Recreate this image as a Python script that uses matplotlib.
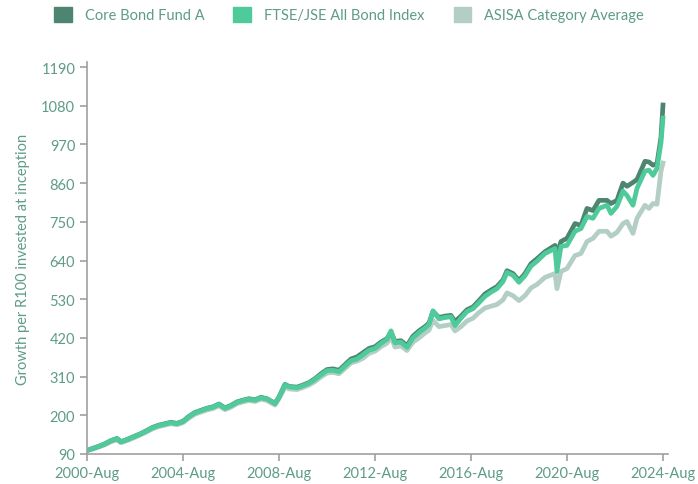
import pandas as pd
import matplotlib
matplotlib.use("Agg")
import matplotlib.pyplot as plt
from matplotlib.patches import Patch

# values (growth of R100)
dates = [
    "2000-08", "2000-11", "2001-02", "2001-05", "2001-08", "2001-11", "2002-01", "2002-04",
    "2002-08", "2002-11", "2003-02", "2003-05", "2003-08", "2003-11", "2004-02", "2004-05",
    "2004-08", "2004-11", "2005-02", "2005-05", "2005-08", "2005-11", "2006-02", "2006-05",
    "2006-08", "2006-11", "2007-02", "2007-05", "2007-08", "2007-11", "2008-02", "2008-06",
    "2008-08", "2008-11", "2009-01", "2009-05", "2009-08", "2009-11", "2010-02", "2010-05",
    "2010-08", "2010-11", "2011-02", "2011-05", "2011-08", "2011-11", "2012-02", "2012-05",
    "2012-08", "2012-11", "2013-02", "2013-04", "2013-06", "2013-09", "2013-12", "2014-03",
    "2014-06", "2014-09", "2014-11", "2015-01", "2015-04", "2015-07", "2015-10", "2015-12",
    "2016-03", "2016-06", "2016-09", "2016-12", "2017-03", "2017-06", "2017-09", "2017-12",
    "2018-02", "2018-05", "2018-08", "2018-11", "2019-02", "2019-05", "2019-09", "2020-02",
    "2020-03", "2020-05", "2020-08", "2020-12", "2021-03", "2021-06", "2021-09", "2021-12",
    "2022-04", "2022-06", "2022-09", "2022-12", "2023-02", "2023-05", "2023-07", "2023-11",
    "2024-01", "2024-03", "2024-05", "2024-07", "2024-08",
]
fund = [
    100, 106, 112, 119, 128, 134, 125, 131, 141, 148, 157, 166, 172, 176, 180, 177,
    183, 197, 208, 214, 220, 224, 232, 221, 228, 238, 243, 247, 244, 251, 247, 234,
    252, 288, 282, 280, 286, 293, 304, 318, 330, 332, 328, 344, 360, 366, 378, 390,
    395, 408, 418, 436, 410, 412, 398, 425, 440, 452, 462, 495, 478, 482, 484, 466,
    482, 500, 508, 526, 545, 556, 566, 585, 611, 603, 583, 603, 631, 645, 665, 683,
    655, 694, 703, 745, 740, 788, 782, 811, 811, 802, 811, 860, 851, 862, 870, 922,
    920, 911, 915, 990, 1082,
]
index = [
    100, 106, 112, 119, 128, 134, 125, 131, 140, 148, 156, 165, 171, 175, 179, 176,
    182, 196, 207, 213, 219, 223, 231, 220, 227, 237, 242, 246, 243, 250, 246, 234,
    251, 287, 281, 278, 284, 291, 302, 315, 327, 328, 324, 340, 355, 360, 372, 385,
    390, 404, 416, 440, 406, 408, 393, 420, 435, 448, 458, 497, 474, 478, 480, 455,
    476, 495, 503, 520, 538, 550, 560, 580, 606, 598, 578, 597, 624, 638, 660, 674,
    609, 680, 683, 723, 731, 765, 760, 788, 797, 774, 794, 837, 825, 797, 845, 894,
    897, 882, 902, 975, 1045,
]
category = [
    100, 104, 110, 116, 125, 130, 122, 128, 137, 145, 153, 162, 168, 172, 176, 173,
    179, 192, 203, 209, 215, 219, 227, 216, 223, 233, 238, 242, 239, 246, 242, 229,
    247, 280, 275, 273, 279, 286, 296, 309, 320, 322, 318, 333, 349, 354, 362, 376,
    382, 395, 405, 422, 394, 397, 384, 408, 420, 434, 442, 470, 452, 455, 458, 440,
    452, 468, 476, 492, 505, 510, 515, 528, 548, 540, 526, 540, 562, 572, 592, 603,
    560, 609, 617, 654, 660, 694, 703, 723, 723, 709, 720, 745, 751, 717, 760, 797,
    788, 802, 800, 894, 917,
]
series_names = ["Core Bond Fund A", "FTSE/JSE All Bond Index", "ASISA Category Average"]
colors = ["#4d8570", "#4eca9b", "#b3cec4"]
yticks = [90, 200, 310, 420, 530, 640, 750, 860, 970, 1080, 1190]
xtick_years = [2000, 2004, 2008, 2012, 2016, 2020, 2024]

txt = "#5e9c86"
plt.rcParams["font.family"] = ["Lato", "DejaVu Sans"]

d = pd.to_datetime(dates)
x = d.year + (d.month - 1) / 12

fig = plt.figure(figsize=(6.98, 4.85), dpi=100)
ax = fig.add_axes([0.1246, 0.0619, 0.8324, 0.808])

ax.plot(x, category, color=colors[2], lw=3.4, solid_joinstyle="round")
ax.plot(x, fund, color=colors[0], lw=3.4, solid_joinstyle="round")
ax.plot(x, index, color=colors[1], lw=3.4, solid_joinstyle="round")

ax.set_ylim(90, 1204)
ax.set_xlim(2000 + 7 / 12, 2024 + 7 / 12 + 5 / 24)
ax.set_yticks(yticks)
ax.set_yticklabels([str(v) for v in yticks])
ax.set_xticks([y + 7 / 12 for y in xtick_years])
ax.set_xticklabels([f"{y}-Aug" for y in xtick_years])

for s in ["top", "right"]:
    ax.spines[s].set_visible(False)
for s in ["left", "bottom"]:
    ax.spines[s].set_color("#a0a0a0")
    ax.spines[s].set_linewidth(1.2)
ax.tick_params(colors="#a0a0a0", labelcolor=txt, labelsize=10.5, length=5, width=1.2)
ax.set_ylabel("Growth per R100 invested at inception", color=txt, fontsize=10.5, labelpad=8)

handles = [Patch(color=c) for c in colors]
fig.legend(handles, series_names, loc="center", bbox_to_anchor=(0.5, 0.968), ncol=3,
           frameon=False, fontsize=10.5, labelcolor=txt, handlelength=1.2, handleheight=1.2,
           columnspacing=2.0, handletextpad=0.9)

fig.savefig("out.png", dpi=100)
